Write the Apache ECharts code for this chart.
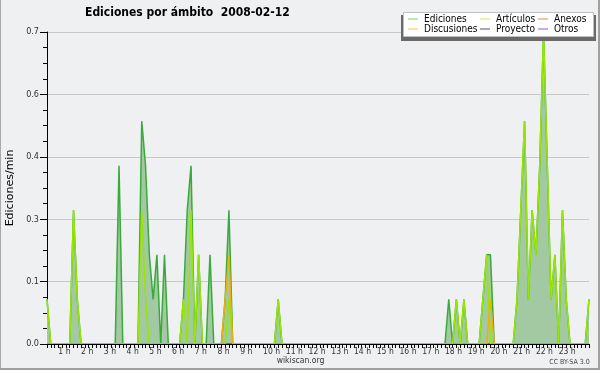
<!DOCTYPE html>
<html>
<head>
<meta charset="utf-8">
<script src="https://cdn.jsdelivr.net/npm/echarts@6/dist/echarts.min.js"></script>
<style>html,body{margin:0;padding:0;background:#eff0f1}#c{width:600px;height:370px}</style>
</head>
<body>
<div id="c"></div>
<script>
// Edits per minute, one value per 10-minute bin (6 per hour, 24 rows)
const ediciones = [
  0.1,0,0,0,0,0,
  0,0.3,0.1,0,0,0,
  0,0,0,0,0,0,
  0,0.4,0,0,0,0,
  0,0.5,0.4,0.2,0.1,0.2,
  0,0.2,0,0,0,0,
  0.1,0.3,0.4,0,0.2,0,
  0,0.2,0,0,0,0.1,
  0.3,0,0,0,0,0,
  0,0,0,0,0,0,
  0,0.1,0,0,0,0,
  0,0,0,0,0,0,
  0,0,0,0,0,0,
  0,0,0,0,0,0,
  0,0,0,0,0,0,
  0,0,0,0,0,0,
  0,0,0,0,0,0,
  0,0,0,0,0.1,0,
  0.1,0,0.1,0,0,0,
  0,0.1,0.2,0.2,0,0,
  0,0,0,0,0.1,0.3,
  0.5,0.1,0.3,0.2,0.4,0.7,
  0.4,0.1,0.2,0,0.3,0.1,
  0,0,0,0,0,0.1
];
const articulos = [
  0.1,0,0,0,0,0,
  0,0.3,0.1,0,0,0,
  0,0,0,0,0,0,
  0,0,0,0,0,0,
  0,0.3,0.1,0,0,0,
  0,0,0,0,0,0,
  0.1,0,0.3,0,0.2,0,
  0,0,0,0,0,0,
  0.1,0,0,0,0,0,
  0,0,0,0,0,0,
  0,0.1,0,0,0,0,
  0,0,0,0,0,0,
  0,0,0,0,0,0,
  0,0,0,0,0,0,
  0,0,0,0,0,0,
  0,0,0,0,0,0,
  0,0,0,0,0,0,
  0,0,0,0,0,0,
  0.1,0,0.1,0,0,0,
  0,0.1,0.2,0,0,0,
  0,0,0,0,0.1,0.3,
  0.5,0.1,0.3,0.2,0.4,0.7,
  0.4,0.1,0.2,0,0.3,0.1,
  0,0,0,0,0,0.1
];
const discusiones = [
  0,0,0,0,0,0, 0,0,0,0,0,0, 0,0,0,0,0,0, 0,0,0,0,0,0,
  0,0,0,0,0,0, 0,0,0,0,0,0, 0,0,0,0,0,0, 0,0,0,0,0,0.1,
  0.2,0,0,0,0,0, 0,0,0,0,0,0, 0,0,0,0,0,0, 0,0,0,0,0,0,
  0,0,0,0,0,0, 0,0,0,0,0,0, 0,0,0,0,0,0, 0,0,0,0,0,0,
  0,0,0,0,0,0, 0,0,0,0,0,0, 0,0,0,0,0,0, 0,0,0,0.1,0,0,
  0,0,0,0,0,0, 0,0,0,0,0,0, 0,0,0,0,0,0, 0,0,0,0,0,0
];
const anexos = new Array(144).fill(0);
const proyecto = new Array(144).fill(0);
const otros = new Array(144).fill(0);

const hourLabels = ['1 h','2 h','3 h','4 h','5 h','6 h','7 h','8 h','9 h','10 h','11 h','12 h',
  '13 h','14 h','15 h','16 h','17 h','18 h','19 h','20 h','21 h','22 h','23 h'];
const yTicks = [0, 0.14, 0.28, 0.42, 0.56, 0.7];

const categories = [];
for (let h = 0; h < 24; h++) for (let m = 0; m < 60; m += 10)
  categories.push(String(h).padStart(2,'0') + ':' + String(m).padStart(2,'0'));

const COND = '"DejaVu Sans Condensed", "DejaVu Sans", sans-serif';

const chart = echarts.init(document.getElementById('c'), null, {renderer: 'canvas'});
function lineSeries(name, data, color, extra) {
  return Object.assign({
    name, type: 'line', data, showSymbol: false, symbol: 'none',
    lineStyle: {color, width: 1.5}, itemStyle: {color},
    animation: false, silent: true
  }, extra || {});
}
function leg(left, items) {
  return {
    orient: 'vertical', left, top: 14, padding: 0, itemGap: 0,
    icon: 'rect', itemWidth: 10, itemHeight: 1, selectedMode: false,
    textStyle: {fontFamily: COND, fontSize: 10, color: '#000', lineHeight: 10, padding: [0,0,0,1]},
    data: items
  };
}
chart.setOption({
  backgroundColor: '#eff0f1',
  animation: false,
  title: {
    text: 'Ediciones por ámbito  2008-02-12', left: 85, top: 7, padding: 0,
    textStyle: {fontFamily: COND, fontWeight: 'bold', fontSize: 12, color: '#000'}
  },
  graphic: [
    {type: 'rect', shape: {x: 401, y: 15, width: 195, height: 26}, style: {fill: '#6a6a6a'}, z: 10},
    {type: 'rect', shape: {x: 403.5, y: 12.5, width: 190, height: 24}, style: {fill: '#fff', stroke: '#c0c0c0', lineWidth: 1}, z: 11},
    {type: 'text', style: {text: 'wikiscan.org', x: 300.5, y: 361, align: 'center', verticalAlign: 'middle', font: '8.5px ' + COND, fill: '#333'}},
    {type: 'text', style: {text: 'CC BY-SA 3.0', x: 569.5, y: 362.5, align: 'center', verticalAlign: 'middle', font: '7px ' + COND, fill: '#444'}},
    {type: 'rect', shape: {x: 0, y: 0, width: 1, height: 370}, style: {fill: '#a8a8a8'}},
    {type: 'rect', shape: {x: 0, y: 368, width: 600, height: 2}, style: {fill: '#a0a0a0'}},
    {type: 'rect', shape: {x: 598, y: 0, width: 2, height: 370}, style: {fill: '#a0a0a0'}}
  ],
  legend: [
    leg(408, [{name: 'Ediciones', itemStyle: {color: '#80cc80'}}, {name: 'Discusiones', itemStyle: {color: '#f8c840'}}]),
    leg(480, [{name: 'Artículos', itemStyle: {color: '#c8ee55'}}, {name: 'Proyecto', itemStyle: {color: '#555555'}}]),
    leg(538, [{name: 'Anexos', itemStyle: {color: '#f08050'}}, {name: 'Otros', itemStyle: {color: '#9050ee'}}])
  ].map(l => Object.assign(l, {z: 20})),
  grid: {left: 47, right: 11, top: 32, bottom: 26, containLabel: false, outerBoundsMode: 'none'},
  xAxis: {
    type: 'category', data: categories, boundaryGap: false, z: 5,
    axisLine: {lineStyle: {color: '#000', width: 1}},
    axisTick: {interval: 0, length: 4, lineStyle: {color: '#000', width: 1}},
    axisLabel: {
      interval: (i) => i % 6 === 3 && i < 140,
      formatter: (v, i) => hourLabels[(i + 3) / 6 - 1],
      align: 'left', margin: 3, fontFamily: COND, fontSize: 8.5, color: '#333'
    },
    splitLine: {show: false}
  },
  yAxis: {
    type: 'value', min: yTicks[0], max: yTicks[yTicks.length - 1], interval: yTicks[1],
    name: 'Ediciones/min', nameLocation: 'middle', nameGap: 30, nameRotate: 90,
    nameTextStyle: {fontFamily: '"DejaVu Sans", sans-serif', fontSize: 11, color: '#000'},
    axisLine: {show: true, lineStyle: {color: '#000', width: 1}},
    axisTick: {show: true, length: 7, lineStyle: {color: '#000'}},
    minorTick: {show: true, splitNumber: 4, length: 4, lineStyle: {color: '#000'}},
    axisLabel: {formatter: v => v.toFixed(1), margin: 8, fontFamily: COND, fontSize: 9, color: '#333'},
    splitLine: {lineStyle: {color: '#c8c8c8', width: 1}}
  },
  series: [
    lineSeries('Ediciones', ediciones, '#3aaa3a', {areaStyle: {color: '#a2c9a2', opacity: 1}, z: 2}),
    lineSeries('Anexos', anexos, '#f07840', {z: 2}),
    lineSeries('Proyecto', proyecto, '#555555', {z: 2}),
    lineSeries('Otros', otros, '#9050ee', {z: 2}),
    lineSeries('Artículos', articulos, '#99e600', {z: 3}),
    lineSeries('Discusiones', discusiones, '#f0b000', {z: 4})
  ]
});
</script>
</body>
</html>
